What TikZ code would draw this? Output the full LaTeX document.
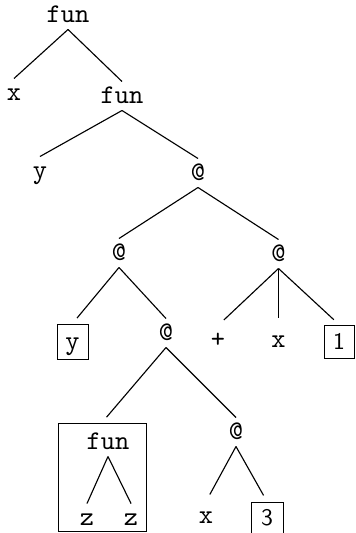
\documentclass[tikz,border=0pt]{standalone}
\begin{document}
\begin{tikzpicture}[x=0.4pt,y=-0.4pt,
  lab/.style={font=\fontsize{10.8}{12}\selectfont\ttfamily, inner sep=0pt, minimum height=11.2pt, text height=6pt, text depth=0pt},
  bx/.style={draw, inner sep=0pt, minimum width=12.4pt, minimum height=14pt},
  dig/.style={font=\fontsize{9.5}{10}\selectfont\sffamily},
  ln/.style={line width=0.45pt},
  lnb/.style={line width=0.45pt, shorten >=2.8pt},
  lns/.style={line width=0.45pt, shorten >=3.2pt}]
\useasboundingbox (0,0) rectangle (355,533);
% nodes
\node[lab] (f1) at (68,15) {fun};
\node[lab] (x1) at (14,93) {x};
\node[lab] (f2) at (122,96) {fun};
\node[lab] (y1) at (40,171) {y};
\node[lab] (a1) at (198,173) {@};
\node[lab] (a2) at (119,253) {@};
\node[lab] (a3) at (278.5,254) {@};
\node[bx, lab, draw, minimum width=12.4pt, minimum height=14pt] (yb) at (72.5,341.5) {y};
\node[lab] (a4) at (166,333) {@};
\node[lab] (plus) at (218,340) {+};
\node[lab] (x2) at (278.5,340) {x};
\node[bx, dig, minimum width=12pt, minimum height=13.2pt] (b1) at (339,341.5) {1};
\node[draw, inner sep=0pt, minimum width=35.2pt, minimum height=43.2pt] (fbox) at (102,477) {};
\node[lab] (f3) at (108,442) {fun};
\node[lab] (z1) at (87,518) {z};
\node[lab] (z2) at (131,518) {z};
\node[lab] (a5) at (236,432) {@};
\node[lab] (x3) at (206,516) {x};
\node[bx, dig, minimum width=12.8pt, minimum height=12.8pt] (b3) at (267,518) {3};
% edges
\draw[ln] (f1.south) -- (x1.north);
\draw[ln] (f1.south) -- (f2.north);
\draw[ln] (f2.south) -- (y1.north);
\draw[ln] (f2.south) -- (a1.north);
\draw[ln] (a1.south) -- (a2.north);
\draw[ln] (a1.south) -- (a3.north);
\draw[lnb] (a2.south) -- (yb.north);
\draw[ln] (a2.south) -- (a4.north);
\draw[lns] (a3.south) -- (plus.north);
\draw[lns] (a3.south) -- (x2.north);
\draw[lnb] (a3.south) -- (b1.north);
\draw[lnb] (a4.south) -- (fbox.north);
\draw[ln] (a4.south) -- (a5.north);
\draw[ln] (f3.south) -- (z1.north);
\draw[ln] (f3.south) -- (z2.north);
\draw[lns] (a5.south) -- (x3.north);
\draw[lnb] (a5.south) -- (b3.north);
\end{tikzpicture}
\end{document}
